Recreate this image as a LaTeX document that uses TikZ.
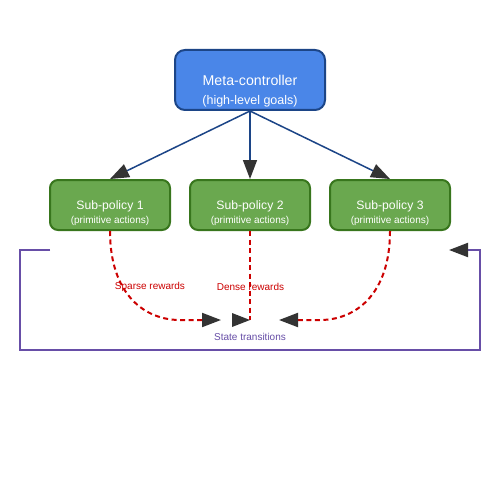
\documentclass[tikz,border=0pt]{standalone}
\usepackage{fontspec}
\setmainfont{Liberation Sans}
\usetikzlibrary{arrows.meta}
\definecolor{metafill}{HTML}{4A86E8}
\definecolor{metaline}{HTML}{1C4587}
\definecolor{subfill}{HTML}{6AA84F}
\definecolor{subline}{HTML}{38761D}
\definecolor{rewred}{HTML}{CC0000}
\definecolor{statepur}{HTML}{674EA7}
\definecolor{tipgray}{HTML}{333333}
\tikzset{
  metabox/.style={draw=metaline, fill=metafill, line width=2pt, rounded corners=10pt, minimum width=150pt, minimum height=60pt, inner sep=0pt},
  subbox/.style={draw=subline, fill=subfill, line width=2pt, rounded corners=8pt, minimum width=120pt, minimum height=50pt, inner sep=0pt},
  txt/.style={text=white, inner sep=0pt, anchor=center},
  tip/.style={-{Triangle[length=19pt,width=14pt,color=tipgray]}},
  goal/.style={draw=metaline, line width=1.5pt, tip},
  reward/.style={draw=rewred, line width=2pt, dash pattern=on 5pt off 3.5pt, tip},
  statel/.style={draw=statepur, line width=2pt},
  lab/.style={inner sep=0pt, font=\fontsize{10pt}{12pt}\selectfont}
}
\begin{document}
\begin{tikzpicture}[x=1pt,y=-1pt]
\useasboundingbox[fill=white] (0,0) rectangle (500,500);
% boxes
\node[metabox] (meta) at (250,80) {};
\node[txt, font=\fontsize{14.2pt}{16pt}\selectfont] (metat1) at (250,80) {Meta-controller};
\node[txt, font=\fontsize{12.5pt}{14pt}\selectfont] (metat2) at (250,101.5) {(high-level goals)};
\node[subbox] (sp1) at (110,205) {};
\node[subbox] (sp2) at (250,205) {};
\node[subbox] (sp3) at (390,205) {};
\foreach \n/\x in {1/110,2/250,3/390}{
  \node[txt, font=\fontsize{12.2pt}{14pt}\selectfont] (spt\n) at (\x,206.3) {Sub-policy \n};
  \node[txt, font=\fontsize{10pt}{12pt}\selectfont] (spa\n) at (\x,221.3) {(primitive actions)};
}
% goal arrows
\draw[goal] (meta.south) -- (sp1.north);
\draw[goal] (meta.south) -- (sp2.north);
\draw[goal] (meta.south) -- (sp3.north);
% reward arrows
\coordinate (r1) at (221,320);
\coordinate (r2) at (250,320);
\coordinate (r3) at (279,320);
\draw[reward] (sp1.south) .. controls (110,295) and (145,320) .. (180,320) -- (r1);
\draw[draw=rewred, line width=2pt, dash pattern=on 5pt off 3.5pt] (sp2.south) -- (r2);
\fill[tipgray] (232,313) -- (r2) -- (232,327) -- cycle;
\draw[reward] (sp3.south) .. controls (390,295) and (355,320) .. (320,320) -- (r3);
\node[lab, text=rewred] (sparse) at (150,286.5) {Sparse rewards};
\node[lab, text=rewred] (dense) at (250.5,286.5) {Dense rewards};
% state transitions
\coordinate (s0) at (50,250);
\coordinate (s1) at (449,250);
\draw[statel] (s0) -- (20,250) -- (20,350) -- (480,350) -- (480,250) -- (467,250);
\draw[statel, tip] (470,250) -- (s1);
\node[lab, text=statepur] (state) at (250,336.5) {State transitions};
\end{tikzpicture}
\end{document}
